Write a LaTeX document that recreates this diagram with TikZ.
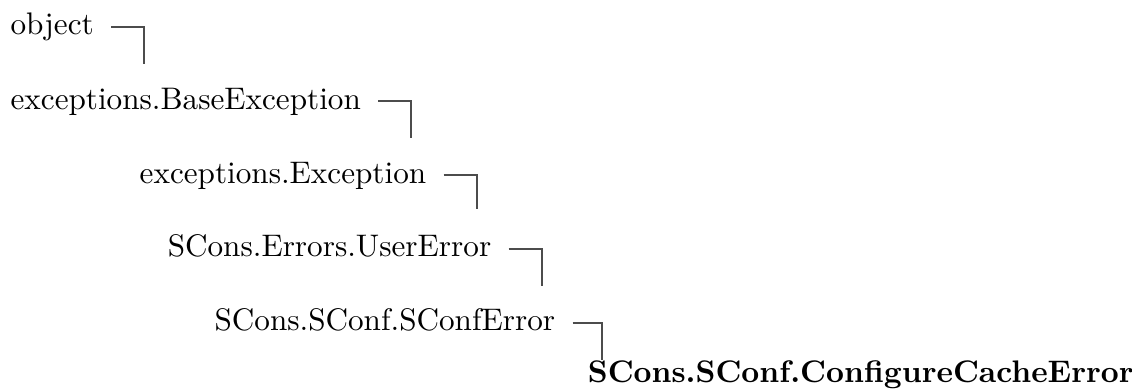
\documentclass[tikz,border=0pt]{standalone}
\usepackage{tikz}
\usetikzlibrary{positioning}
\tikzset{
  osztaly/.style={inner sep=0pt,anchor=base west,font=\normalsize},
  aktualis/.style={osztaly,font=\normalsize\bfseries},
  kapocs/.style={draw=black!70,line width=0.6pt},
}

\begin{document}
\begin{tikzpicture}
  \useasboundingbox (0pt,0pt) rectangle (363pt,-125pt);
  \node[osztaly] (obj) at (3.2pt,-11.2pt) {object};
  \node[osztaly] (base) at (3.2pt,-35pt) {exceptions.BaseException};
  \node[osztaly] (exc) at (44.6pt,-58.7pt) {exceptions.Exception};
  \node[osztaly] (user) at (53.6pt,-82.4pt) {SCons.Errors.UserError};
  \node[osztaly] (sconf) at (68.6pt,-106.1pt) {SCons.SConf.SConfError};
  \node[aktualis] (cache) at (188.3pt,-122.6pt) {SCons.SConf.ConfigureCacheError};
  \draw[kapocs] ([xshift=5.4pt,yshift=2.6pt]obj.base east) -- ++(10.6pt,0) -- ++(0,-12pt);
  \draw[kapocs] ([xshift=5.4pt,yshift=2.6pt]base.base east) -- ++(10.6pt,0) -- ++(0,-12pt);
  \draw[kapocs] ([xshift=5.4pt,yshift=2.6pt]exc.base east) -- ++(10.6pt,0) -- ++(0,-11pt);
  \draw[kapocs] ([xshift=5.4pt,yshift=2.6pt]user.base east) -- ++(10.6pt,0) -- ++(0,-12pt);
  \draw[kapocs] ([xshift=5.4pt,yshift=2.6pt]sconf.base east) -| ([xshift=4.6pt]cache.north west);
\end{tikzpicture}
\end{document}
